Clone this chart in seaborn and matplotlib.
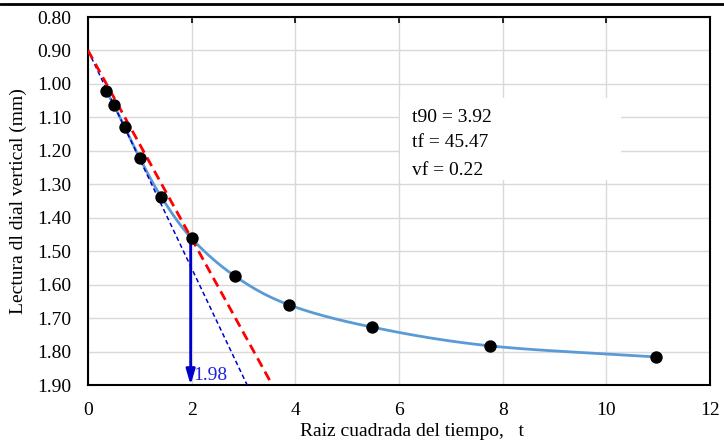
import numpy as np
import pandas as pd
import matplotlib
matplotlib.use("Agg")
import matplotlib.pyplot as plt
from matplotlib.patches import Rectangle
from matplotlib.lines import Line2D
import seaborn as sns

# Square root of elapsed time and dial readings (mm)
raiz_t = [0.35, 0.50, 0.71, 1.00, 1.41, 2.00, 2.83, 3.87, 5.48, 7.75, 10.95]
lectura = [1.02, 1.063, 1.13, 1.222, 1.337, 1.462, 1.574, 1.66, 1.727, 1.783, 1.816]

# Construction lines (Taylor method): initial tangent and 1.15x abscissa line
tangente_x = [0.0, 3.07]
tangente_y = [0.90, 1.90]
taylor_x = [0.0, 3.555]
taylor_y = [0.90, 1.90]

# Result read-off
x_lectura = 1.98
etiqueta_lectura = "1.98"
resultados = ["t90 = 3.92", "tf = 45.47", "vf = 0.22"]

sns.set_theme(style="whitegrid")
plt.rcParams["font.family"] = ["Liberation Serif", "DejaVu Serif"]


def suavizar(x, y, sx=51.85, sy=334.5, n=30):
    """Catmull-Rom smoothing computed in screen-like scaled space."""
    p = np.column_stack([np.asarray(x) * sx, np.asarray(y) * sy])
    p = np.vstack([2 * p[0] - p[1], p, 2 * p[-1] - p[-2]])
    out = []
    t = np.linspace(0, 1, n, endpoint=False)[:, None]
    for i in range(1, len(p) - 2):
        p0, p1, p2, p3 = p[i - 1], p[i], p[i + 1], p[i + 2]
        seg = 0.5 * ((2 * p1) + (-p0 + p2) * t + (2 * p0 - 5 * p1 + 4 * p2 - p3) * t ** 2
                     + (-p0 + 3 * p1 - 3 * p2 + p3) * t ** 3)
        out.append(seg)
    out.append(p[-2][None, :])
    out = np.vstack(out)
    return out[:, 0] / sx, out[:, 1] / sy


fig = plt.figure(figsize=(7.24, 4.43), dpi=100)
ax = fig.add_axes([88 / 724, 1 - 385 / 443, (710 - 88) / 724, (385 - 17) / 443])

cx, cy = suavizar(raiz_t, lectura)
curva = pd.DataFrame({"x": cx, "y": cy})
sns.lineplot(data=curva, x="x", y="y", sort=False, color="#5B9BD5", lw=2.0, ax=ax, zorder=3)

sns.lineplot(x=tangente_x, y=tangente_y, sort=False, color="#0000CC", lw=1.1,
             ax=ax, zorder=3, linestyle=(0, (3, 2)))
sns.lineplot(x=taylor_x, y=taylor_y, sort=False, color="#FF0000", lw=2.0,
             ax=ax, zorder=3, linestyle=(0, (3.5, 2)))

sns.scatterplot(x=raiz_t, y=lectura, color="black", s=80, edgecolor="black",
                linewidth=0, ax=ax, zorder=5)

# Vertical read-off arrow
ax.annotate("", xy=(x_lectura, 1.90), xytext=(x_lectura, lectura[5]),
            arrowprops=dict(arrowstyle="-|>,head_length=0.75,head_width=0.22",
                            color="#0000CC", lw=2.0, shrinkA=0, shrinkB=0),
            zorder=4)
ax.text(2.03, 1.872, etiqueta_lectura, color="#2020E0", fontsize=14,
        va="center", ha="left", zorder=6)

# Results box
ax.add_patch(Rectangle((6.02, 1.042), 4.26, 0.245, facecolor="white",
                       edgecolor="none", zorder=2))
for txt, yy in zip(resultados, [1.099, 1.174, 1.260]):
    ax.text(6.25, yy, txt, fontsize=14, va="center", ha="left", color="black", zorder=6)

ax.set_xlim(0, 12)
ax.set_ylim(1.90, 0.80)
ax.set_xticks(np.arange(0, 13, 2))
ax.set_yticks(np.round(np.arange(0.8, 1.91, 0.1), 2))
ax.set_yticklabels([f"{v:.2f}" for v in np.arange(0.8, 1.91, 0.1)])
ax.grid(True, color="#D9D9D9", lw=1.0)
ax.set_axisbelow(True)
ax.tick_params(axis="x", top=True, bottom=False, direction="in", length=4,
               width=1.2, color="black", labelsize=14, pad=12, labelcolor="black")
ax.tick_params(axis="y", left=False, labelsize=14, pad=6, labelcolor="black")
ax.set_facecolor("white")
for s in ax.spines.values():
    s.set_visible(True)
    s.set_color("black")
    s.set_linewidth(1.5)

ax.set_xlabel("Raiz cuadrada del tiempo,   t", fontsize=14, color="black",
              labelpad=3, x=0.521)
ax.set_ylabel("Lectura dl dial vertical (mm)", fontsize=14, color="black", labelpad=7)

fig.add_artist(Line2D([0, 1], [1 - 4 / 443, 1 - 4 / 443], color="black", lw=2.0,
                      transform=fig.transFigure))

fig.savefig("out.png", dpi=100, facecolor="white")
